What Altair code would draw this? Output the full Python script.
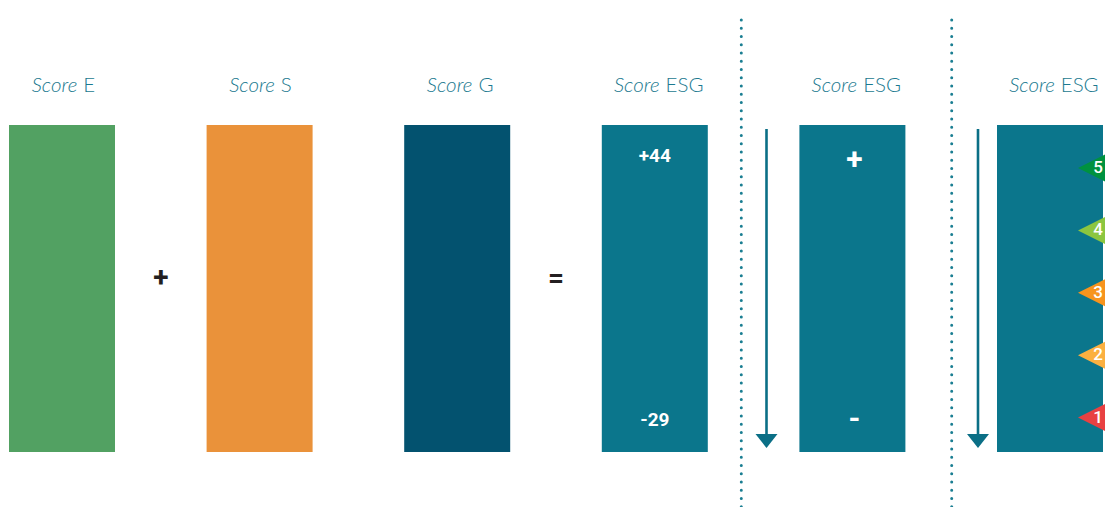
import altair as alt
import pandas as pd

# ---- data ----
suffixes = ["E", "S", "G", "ESG", "ESG", "ESG"]
bar_colors = ["#52a162", "#ea923a", "#03526f", "#0b768c", "#0b768c", "#0b768c"]
operators = ["+", "="]
esg_bounds = ["+44", "-29"]
direction = ["+", "-"]
ratings = [5, 4, 3, 2, 1]
rating_colors = ["#00923f", "#8cc63f", "#f7941d", "#fbb040", "#e84142"]

# ---- layout (page pixels -> column units) ----
W, H = 1097, 499
PITCH, FIRST = 197.6, 62.0


def u(px):
    return (px - FIRST) / PITCH


HW = 53 / PITCH
BAR_TOP, BAR_BOT = 125, 452
TITLE_Y = 86
TEAL_TXT = "#1c7a90"
TEAL = "#0b6f86"

xs = alt.Scale(domain=[u(8), u(8 + W)], range=[0, W])
ys = alt.Scale(domain=[8, 8 + H], range=[0, H])
X = lambda f: alt.X(f, type="quantitative", scale=xs, axis=None)
Y = lambda f: alt.Y(f, type="quantitative", scale=ys, axis=None)

# bars
bars_df = pd.DataFrame({
    "col": list(range(len(bar_colors))),
    "color": bar_colors,
})
bars_df["x"] = bars_df["col"] - HW
bars_df["x2"] = bars_df["col"] + HW
bars_df["y"] = BAR_TOP
bars_df["y2"] = BAR_BOT
bars = alt.Chart(bars_df).mark_rect().encode(
    x=X("x"), x2="x2", y=Y("y"), y2="y2",
    color=alt.Color("color:N", scale=None),
)

# titles
SCORE_W, GAP, LETTER_W = 47.0, 6.0, 10.5
rows = []
for i, s in enumerate(suffixes):
    total = SCORE_W + GAP + LETTER_W * len(s)
    start = -total / 2
    rows.append({
        "score_x": i + (start + SCORE_W) / PITCH,
        "suf_x": i + (start + SCORE_W + GAP) / PITCH,
        "suffix": s,
        "y": TITLE_Y,
    })
titles_df = pd.DataFrame(rows)
score_txt = alt.Chart(titles_df).mark_text(
    text="Score", align="right", baseline="middle", font="Lato",
    fontStyle="italic", fontWeight=300, fontSize=20.5, color=TEAL_TXT,
).encode(x=X("score_x"), y=Y("y"))
suffix_txt = alt.Chart(titles_df).mark_text(
    align="left", baseline="middle", font="Lato", fontWeight=300,
    fontSize=20.5, color=TEAL_TXT,
).encode(x=X("suf_x"), y=Y("y"), text="suffix:N")

# operators
ops_df = pd.DataFrame({"op": operators, "x": [0.5, 2.5], "y": [279, 279]})
ops = alt.Chart(ops_df).mark_text(
    baseline="middle", align="center", font="Roboto", fontWeight="bold",
    fontSize=28, color="#231f20",
).encode(x=X("x"), y=Y("y"), text="op:N")

# labels inside ESG bars
lbl_df = pd.DataFrame({"t": esg_bounds, "x": [3, 3], "y": [156, 420]})
lbl = alt.Chart(lbl_df).mark_text(
    baseline="middle", align="center", font="Roboto", fontWeight="bold",
    fontSize=19, color="white",
).encode(x=X("x"), y=Y("y"), text="t:N")
dir_df = pd.DataFrame({"t": direction, "x": [4 + 2 / PITCH] * 2, "y": [160, 419]})
dirs = alt.Chart(dir_df).mark_text(
    baseline="middle", align="center", font="Roboto", fontWeight="bold",
    fontSize=30, color="white",
).encode(x=X("x"), y=Y("y"), text="t:N")

# dotted separators
sep_df = pd.DataFrame({"x": [u(741.3), u(951.7)], "y": [20, 20], "y2": [515, 515]})
seps = alt.Chart(sep_df).mark_rule(
    strokeDash=[0.1, 8.15], strokeCap="round", strokeWidth=3, color="#1a7e92",
).encode(x=X("x"), y=Y("y"), y2="y2")

# arrows
arr_df = pd.DataFrame({"x": [u(766.5), u(978)], "y": [129, 129], "y2": [437, 437], "hy": [441, 441]})
arr_line = alt.Chart(arr_df).mark_rule(strokeWidth=2.6, color=TEAL).encode(
    x=X("x"), y=Y("y"), y2="y2")
arr_head = alt.Chart(arr_df).mark_point(
    shape="M-1,-0.636L1,-0.636L0,0.636Z", size=484, filled=True, opacity=1,
    color=TEAL, strokeWidth=0,
).encode(x=X("x"), y=Y("hy"))

# rating flags
rt_df = pd.DataFrame({"r": ratings, "color": rating_colors})
rt_df["y"] = 168 + 62.4 * (5 - rt_df["r"])
rt_df["tx"] = u(1095)
rt_df["nx"] = u(1098)
flags = alt.Chart(rt_df).mark_point(
    shape="M-1,0L1,-1L1,1Z", size=1156, filled=True, opacity=1, strokeWidth=0,
).encode(x=X("tx"), y=Y("y"), color=alt.Color("color:N", scale=None))
nums = alt.Chart(rt_df).mark_text(
    baseline="middle", align="center", font="Roboto", fontWeight=500,
    fontSize=17, color="white",
).encode(x=X("nx"), y=Y("y"), text="r:N")

chart = alt.layer(
    bars, score_txt, suffix_txt, ops, lbl, dirs, seps, arr_line, arr_head, flags, nums
).properties(
    width=W, height=H, padding=0, autosize="none", background="white"
).configure_view(stroke=None)

chart.save("out.html", embed_options={"renderer": "svg", "actions": False})
